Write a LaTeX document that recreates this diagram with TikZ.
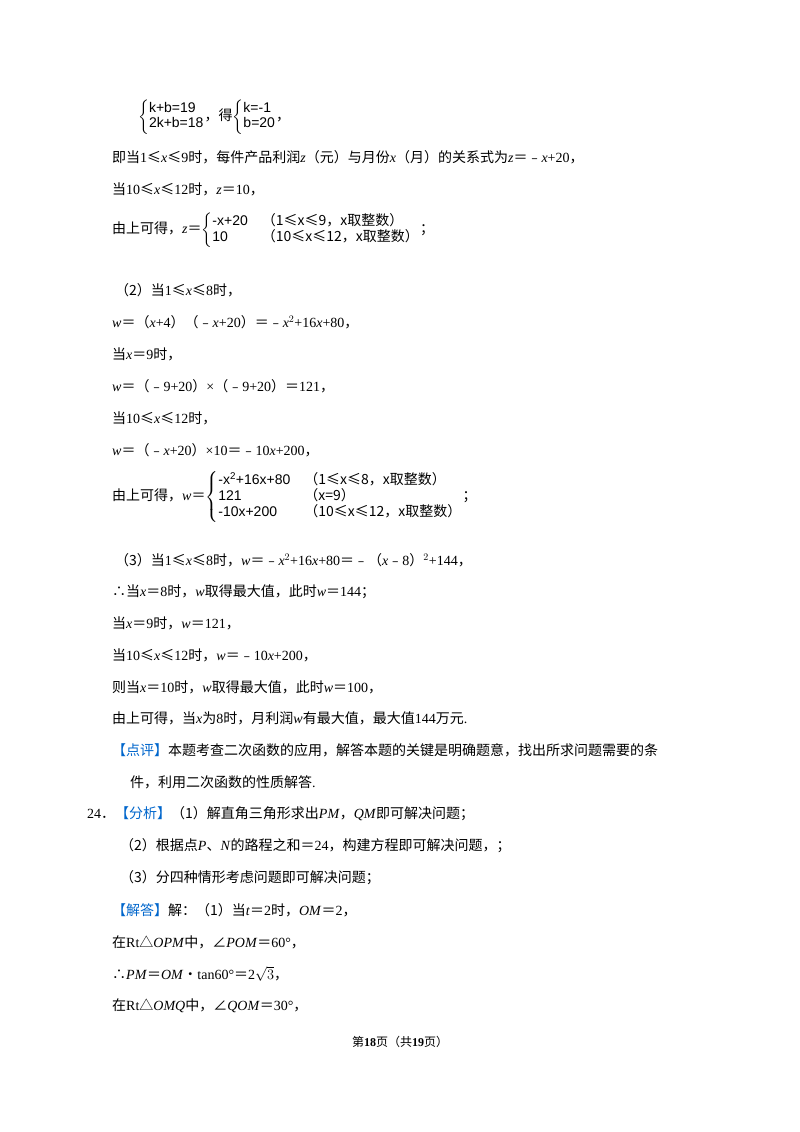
\documentclass[tikz,border=0pt]{standalone}
\usepackage{fontspec}
\usepackage{amsmath}
\setmainfont{Liberation Serif}
\setsansfont{Liberation Sans}
\newfontfamily\cjkf{Noto Sans CJK SC}
\newcommand\Z[1]{\mbox{\cjkf #1}}
\newcommand\I[1]{\textit{#1}}
\definecolor{pblue}{RGB}{0,102,204}
\begin{document}
\begin{tikzpicture}[x=1pt,y=1pt,
  txt/.style={anchor=west,inner sep=0pt,font=\fontsize{14}{16}\selectfont},
  img/.style={anchor=west,inner sep=0pt,font=\sffamily\fontsize{14}{16}\selectfont}]
\useasboundingbox (0,0) rectangle (800,-1132);
\fill[white] (0,0) rectangle (800,-1132);
\node[img] (l0) at (138,-117) {$\left\{\begin{array}{@{}l@{}}\textsf{k+b=19}\\[-1pt] \textsf{2k+b=18}\end{array}\right.$\Z{，得}$\left\{\begin{array}{@{}l@{}}\textsf{k=-1}\\[-1pt] \textsf{b=20}\end{array}\right.$\Z{，}};
\node[txt] (l1) at (112,-157) {\Z{即当}1\Z{≤}\I{x}\Z{≤}9\Z{时，每件产品利润}\I{z}\Z{（元）与月份}\I{x}\Z{（月）的关系式为}\I{z}\Z{＝﹣}\I{x}+20\Z{，}};
\node[txt] (l2) at (112,-189) {\Z{当}10\Z{≤}\I{x}\Z{≤}12\Z{时，}\I{z}\Z{＝}10\Z{，}};
\node[txt] (l3) at (112,-230) {\Z{由上可得，}\I{z}\Z{＝}$\left\{\begin{array}{@{}l@{\quad}l@{}}\textsf{-x+20} & \Z{（1≤x≤9，x取整数）}\\[-1pt] \textsf{10} & \Z{（10≤x≤12，x取整数）}\end{array}\right.$\Z{；}};
\node[txt] (l4) at (115,-290) {\Z{（2）当}1\Z{≤}\I{x}\Z{≤}8\Z{时，}};
\node[txt] (l5) at (112,-322) {\I{w}\Z{＝（}\I{x}+4\Z{）（﹣}\I{x}+20\Z{）＝﹣}\I{x}$^2$+16\I{x}+80\Z{，}};
\node[txt] (l6) at (112,-354) {\Z{当}\I{x}\Z{＝}9\Z{时，}};
\node[txt] (l7) at (112,-386) {\I{w}\Z{＝（﹣}9+20\Z{）}×\Z{（﹣}9+20\Z{）＝}121\Z{，}};
\node[txt] (l8) at (112,-418) {\Z{当}10\Z{≤}\I{x}\Z{≤}12\Z{时，}};
\node[txt] (l9) at (112,-450) {\I{w}\Z{＝（﹣}\I{x}+20\Z{）}×10\Z{＝﹣}10\I{x}+200\Z{，}};
\node[txt] (l10) at (112,-497) {\Z{由上可得，}\I{w}\Z{＝}$\left\{\begin{array}{@{}l@{\quad}l@{}}\textsf{-x}^{\textsf{2}}\textsf{+16x+80} & \Z{（1≤x≤8，x取整数）}\\[-1pt] \textsf{121} & \Z{（x=9）}\\[-1pt] \textsf{-10x+200} & \Z{（10≤x≤12，x取整数）}\end{array}\right.$\Z{；}};
\node[txt] (l11) at (115,-560) {\Z{（3）当}1\Z{≤}\I{x}\Z{≤}8\Z{时，}\I{w}\Z{＝﹣}\I{x}$^2$+16\I{x}+80\Z{＝﹣（}\I{x}\Z{﹣}8\Z{）}$^2$+144\Z{，}};
\node[txt] (l12) at (112,-592) {\Z{∴当}\I{x}\Z{＝}8\Z{时，}\I{w}\Z{取得最大值，此时}\I{w}\Z{＝}144\Z{；}};
\node[txt] (l13) at (112,-623) {\Z{当}\I{x}\Z{＝}9\Z{时，}\I{w}\Z{＝}121\Z{，}};
\node[txt] (l14) at (112,-655) {\Z{当}10\Z{≤}\I{x}\Z{≤}12\Z{时，}\I{w}\Z{＝﹣}10\I{x}+200\Z{，}};
\node[txt] (l15) at (112,-687) {\Z{则当}\I{x}\Z{＝}10\Z{时，}\I{w}\Z{取得最大值，此时}\I{w}\Z{＝}100\Z{，}};
\node[txt] (l16) at (112,-718) {\Z{由上可得，当}\I{x}\Z{为}8\Z{时，月利润}\I{w}\Z{有最大值，最大值}144\Z{万元}.};
\node[txt] (l17) at (112,-750) {\textcolor{pblue}{\Z{【点评】}}\Z{本题考查二次函数的应用，解答本题的关键是明确题意，找出所求问题需要的条}};
\node[txt] (l18) at (130,-782) {\Z{件，利用二次函数的性质解答}.};
\node[txt] (l19) at (87,-814) {24\Z{．}\textcolor{pblue}{\Z{【分析】}}\Z{（1）解直角三角形求出}\I{PM}\Z{，}\I{QM}\Z{即可解决问题；}};
\node[txt] (l20) at (120,-846) {\Z{（2）根据点}\I{P}\Z{、}\I{N}\Z{的路程之和＝}24\Z{，构建方程即可解决问题，；}};
\node[txt] (l21) at (120,-878) {\Z{（3）分四种情形考虑问题即可解决问题；}};
\node[txt] (l22) at (112,-910) {\textcolor{pblue}{\Z{【解答】}}\Z{解：（1）当}\I{t}\Z{＝}2\Z{时，}\I{OM}\Z{＝}2\Z{，}};
\node[txt] (l23) at (112,-942) {\Z{在}Rt\Z{△}\I{OPM}\Z{中，∠}\I{POM}\Z{＝}60°\Z{，}};
\node[txt] (l24) at (112,-974) {\Z{∴}\I{PM}\Z{＝}\I{OM}\Z{•}tan60°\Z{＝}2$\sqrt{3}$\Z{，}};
\node[txt] (l25) at (112,-1006) {\Z{在}Rt\Z{△}\I{OMQ}\Z{中，∠}\I{QOM}\Z{＝}30°\Z{，}};
\node[anchor=center,inner sep=0pt,font=\fontsize{12}{14}\selectfont] (ft) at (400,-1042) {\Z{第}\textbf{18}\Z{页（共}\textbf{19}\Z{页）}};
\end{tikzpicture}
\end{document}
